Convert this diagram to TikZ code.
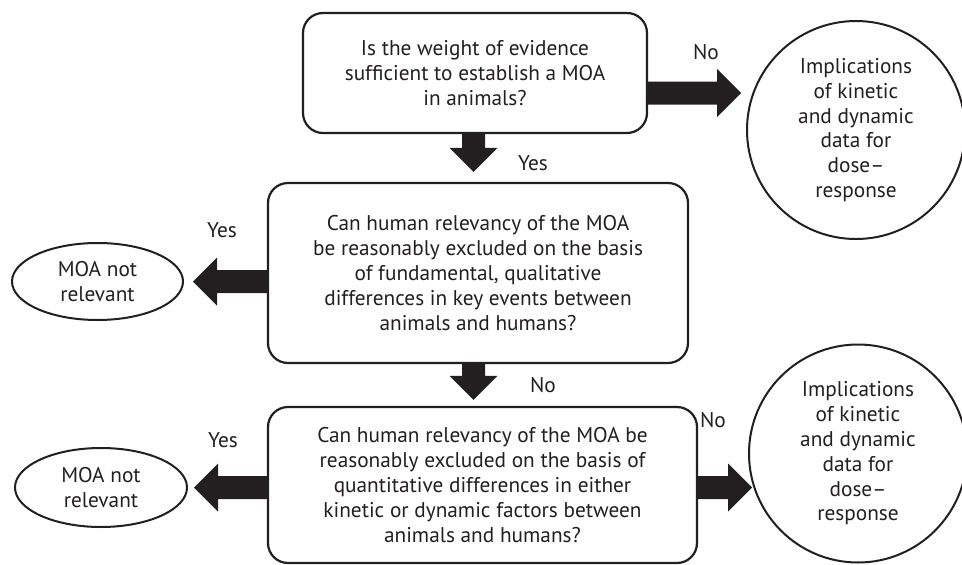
\documentclass[tikz,border=0pt]{standalone}
\usepackage{fontspec}
\setmainfont{PT Sans}
\usetikzlibrary{calc,shapes.geometric}
\definecolor{ink}{HTML}{231F20}

% Thick block arrow from #1 (tail centre) to #2 (tip)
\newcommand{\blockarrow}[2]{%
  \coordinate (ba-h) at ($(#2)!24pt!(#1)$);
  \fill[blk] ($(#1)!11.5pt!90:(#2)$) -- ($(ba-h)!11.5pt!-90:(#1)$)
    -- ($(ba-h)!24pt!-90:(#1)$) -- (#2) -- ($(ba-h)!24pt!90:(#1)$)
    -- ($(ba-h)!11.5pt!90:(#1)$) -- ($(#1)!11.5pt!-90:(#2)$) -- cycle;}

\begin{document}
\begin{tikzpicture}[x=1pt,y=-1pt,
  every node/.style={text=ink, font=\fontsize{21.3}{24.8}\selectfont,
    align=center, inner sep=0pt},
  question/.style={draw=ink, line width=2.2pt, rounded corners=20pt},
  outcome/.style={draw=ink, line width=2pt, circle, minimum size=218pt},
  verdict/.style={draw=ink, line width=2pt, ellipse},
  blk/.style={fill=ink}]
\useasboundingbox (0,0) rectangle (962,565);
\clip (0,0) rectangle (962,565);

% decision boxes
\node[question, minimum width=344pt, minimum height=120pt] (q1) at (475,73)
  {Is the weight of evidence\\ sufficient to establish a MOA\\ in animals?};
\node[question, minimum width=420pt, minimum height=180pt] (q2) at (478,273)
  {Can human relevancy of the MOA\\ be reasonably excluded on the basis\\
   of fundamental, qualitative\\ differences in key events between\\
   animals and humans?};
\node[question, minimum width=429pt, minimum height=156pt] (q3) at (482.5,485)
  {Can human relevancy of the MOA be\\ reasonably excluded on the basis of\\
   quantitative differences in either\\ kinetic or dynamic factors between\\
   animals and humans?};

% outcomes
\node[outcome] (c1) at (856,130)
  {Implications\\ of kinetic\\ and dynamic\\ data for\\ dose–\\ response};
\node[outcome] (c2) at (858,453.5)
  {Implications\\ of kinetic\\ and dynamic\\ data for\\ dose–\\ response};
\node[verdict, minimum width=171pt, minimum height=77pt] (e1) at (97.5,281.5)
  {MOA not\\ relevant};
\node[verdict, minimum width=172pt, minimum height=79pt] (e2) at (101,487.5)
  {MOA not\\ relevant};

% arrow end points
\coordinate (d1a) at ($(q1.south)+(-1.5,0)$);
\coordinate (d1b) at ($(d1a |- q2.north)+(0,-10)$);
\coordinate (d2a) at (d1a |- q2.south);
\coordinate (d2b) at ($(d1a |- q3.north)+(0,-6)$);
\coordinate (r1a) at ($(q1.east)+(0,20)$);
\coordinate (r1b) at ($(r1a -| c1.west)+(-5,0)$);
\coordinate (r2a) at ($(q3.east)+(0,2.5)$);
\coordinate (r2b) at ($(r2a -| c2.west)+(4,0)$);
\coordinate (l1a) at (q2.west |- e1.east);
\coordinate (l1b) at ($(e1.east)+(9,0)$);
\coordinate (l2a) at (q3.west |- e2.east);
\coordinate (l2b) at ($(e2.east)+(6,0)$);

\blockarrow{d1a}{d1b}
\blockarrow{d2a}{d2b}
\blockarrow{r1a}{r1b}
\blockarrow{r2a}{r2b}
\blockarrow{l1a}{l1b}
\blockarrow{l2a}{l2b}

% answer labels
\node (yes1) at (533,163) {Yes};
\node (no1)  at (706,52)  {No};
\node (yes2) at (222,230) {Yes};
\node (no2)  at (543,385) {No};
\node (yes3) at (223,440) {Yes};
\node (no3)  at (713,420) {No};
\end{tikzpicture}
\end{document}
